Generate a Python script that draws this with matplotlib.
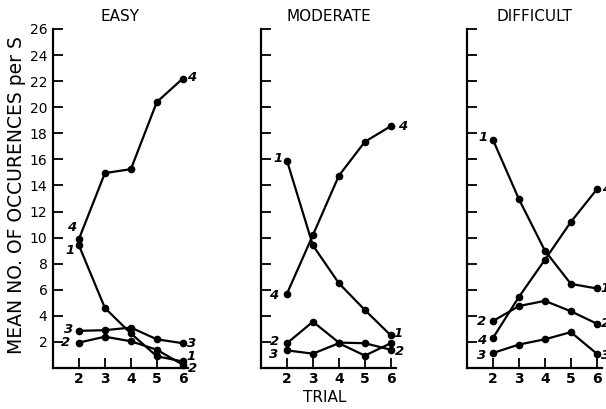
import numpy as np
import matplotlib
matplotlib.use("Agg")
import matplotlib.pyplot as plt

# trial numbers
trials = [2, 3, 4, 5, 6]

# EASY
easy_1 = [9.4, 4.6, 2.65, 0.9, 0.5]
easy_2 = [1.95, 2.4, 2.05, 1.4, 0.25]
easy_3 = [2.85, 2.9, 3.1, 2.2, 1.9]
easy_4 = [9.9, 14.95, 15.25, 20.4, 22.2]

# MODERATE
mod_1 = [15.9, 9.4, 6.5, 4.45, 2.5]
mod_2 = [1.9, 3.55, 1.95, 1.9, 1.4]
mod_3 = [1.35, 1.1, 1.9, 0.95, 1.9]
mod_4 = [5.7, 10.2, 14.75, 17.35, 18.55]

# DIFFICULT
dif_1 = [17.5, 12.95, 9.0, 6.45, 6.1]
dif_2 = [3.6, 4.75, 5.15, 4.35, 3.4]
dif_3 = [1.15, 1.8, 2.2, 2.75, 1.1]
dif_4 = [2.3, 5.45, 8.3, 11.2, 13.7]

titulos = ["EASY", "MODERATE", "DIFFICULT"]
yticks = list(range(2, 27, 2))

paneles = [
    {"1": easy_1, "2": easy_2, "3": easy_3, "4": easy_4},
    {"1": mod_1, "2": mod_2, "3": mod_3, "4": mod_4},
    {"1": dif_1, "2": dif_2, "3": dif_3, "4": dif_4},
]

# label offsets in pixels (left end, right end); None = no label
offsets = [
    {"1": ((-9, -5), (8, 5)), "2": ((-13, 0), (10, -4)),
     "3": ((-10, 1), (9, 0)), "4": ((-7, 11), (9, 1))},
    {"1": ((-9, 2), (7, 2)), "2": ((-12, 2), (9, -2)),
     "3": ((-13, -4), None), "4": ((-13, -2), (12, 0))},
    {"1": ((-10, 2), (8, 0)), "2": ((-11, 0), (9, 0)),
     "3": ((-11, -2), (9, -2)), "4": ((-11, -2), (10, 0))},
]

lefts = [53/606, 261/606, 467/606]

fig = plt.figure(figsize=(6.06, 4.09), dpi=100)

for k in range(3):
    ax = fig.add_axes([lefts[k], 41/409, 135/606, 339/409])
    for s in ["1", "2", "3", "4"]:
        y = paneles[k][s]
        ax.plot(trials, y, color="black", lw=1.6, marker="o", ms=4.5,
                clip_on=False, zorder=3)
        izq, der = offsets[k][s]
        for idx, off in ((0, izq), (-1, der)):
            if off is None:
                continue
            ax.annotate(s, (trials[idx], y[idx]), xytext=off,
                        textcoords="offset pixels", ha="center", va="center",
                        fontsize=9.5, fontstyle="italic", fontweight="bold",
                        annotation_clip=False)
    ax.set_xlim(1, 6.2)
    ax.set_ylim(0, 26)
    ax.set_xticks(trials)
    ax.set_yticks(yticks)
    for lado in ["top", "right"]:
        ax.spines[lado].set_visible(False)
    for lado in ["left", "bottom"]:
        ax.spines[lado].set_linewidth(1.6)
    ax.tick_params(direction="in", length=7, width=1.3, labelsize=10, pad=4)
    ax.tick_params(axis="x", pad=3)
    for t in ax.get_xticklabels():
        t.set_fontweight("bold")
    if k > 0:
        ax.set_yticklabels([])
    ax.set_title(titulos[k], fontsize=11, pad=6)

fig.text(0.027, 0.523, "MEAN NO. OF OCCURENCES per S", rotation=90,
         ha="center", va="center", fontsize=13.5)
fig.text(325/606, 1 - 397/409, "TRIAL", ha="center", va="center", fontsize=11)

plt.savefig("out.png", dpi=100)
